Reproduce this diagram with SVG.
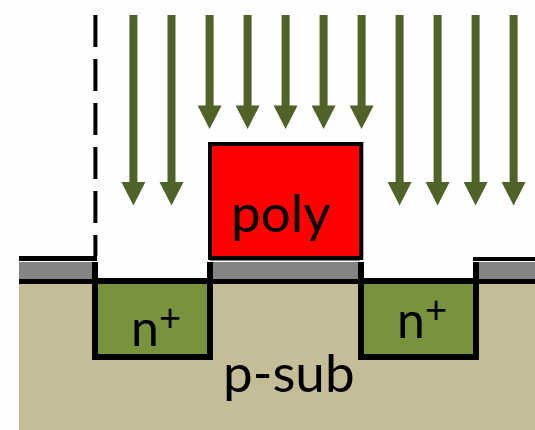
<svg xmlns="http://www.w3.org/2000/svg" width="535" height="430" viewBox="0 0 535 430">
<defs>
<g id="ta"><rect x="-4" y="15" width="8" height="167"/><path d="M-12 182H12L0 205.500Z"/></g>
<g id="sa"><rect x="-4" y="15" width="8" height="91"/><path d="M-12 105.500H12L0 129Z"/></g>
</defs>
<style>
.t{font-family:Lato,"Liberation Sans",sans-serif;fill:#000}
.g{fill:#848484}
.n{fill:#77933c;stroke:#000;stroke-width:6}
</style>
<rect width="535" height="430" fill="#fefefe"/>
<g id="substrate"><rect x="19" y="281" width="516" height="149" fill="#c4bd97"/></g>
<g id="oxide">
<rect class="g" x="19" y="262" width="76" height="18"/>
<rect class="g" x="210" y="258" width="150" height="3"/>
<rect class="g" x="210" y="262" width="150" height="18"/>
<rect class="g" x="476" y="262" width="59" height="18"/>
<rect x="19" y="256" width="78" height="5"/>
<rect x="473" y="257" width="62" height="4"/>
<rect x="19" y="279" width="76" height="5"/>
<rect x="210" y="279" width="150" height="5"/>
<rect x="476" y="279" width="59" height="5"/>
</g>
<g id="n-left"><rect class="n" x="95" y="281" width="115" height="76"/>
<rect x="92" y="262" width="6" height="18"/><rect x="207" y="262" width="6" height="18"/>
<text class="t" x="131" y="346" font-size="50">n</text><text class="t" x="159" y="331" font-size="38">+</text></g>
<g id="n-right"><rect class="n" x="361" y="281" width="115" height="76"/>
<rect x="358" y="262" width="6" height="18"/><rect x="473" y="262" width="6" height="18"/>
<text class="t" x="397" y="338" font-size="50">n</text><text class="t" x="425" y="323" font-size="38">+</text></g>
<g id="poly"><rect x="210" y="144" width="151.300" height="114" fill="#f00" stroke="#000" stroke-width="4"/>
<text class="t" x="231" y="232" font-size="53">poly</text></g>
<g id="p-sub"><text class="t" x="223" y="392" font-size="53">p-sub</text></g>
<g id="connectors">
<path d="M95.400 15V256" fill="none" stroke="#000" stroke-width="4" stroke-dasharray="32 12"/>
<g fill="#4f6228">
<use href="#ta" x="133.400"/><use href="#ta" x="171.500"/>
<use href="#sa" x="209.600"/><use href="#sa" x="247.600"/><use href="#sa" x="285.600"/><use href="#sa" x="323.600"/><use href="#sa" x="361.600"/>
<use href="#ta" x="399.600"/><use href="#ta" x="437.600"/><use href="#ta" x="475.600"/><use href="#ta" x="513.600"/>
</g>
</g>
</svg>
